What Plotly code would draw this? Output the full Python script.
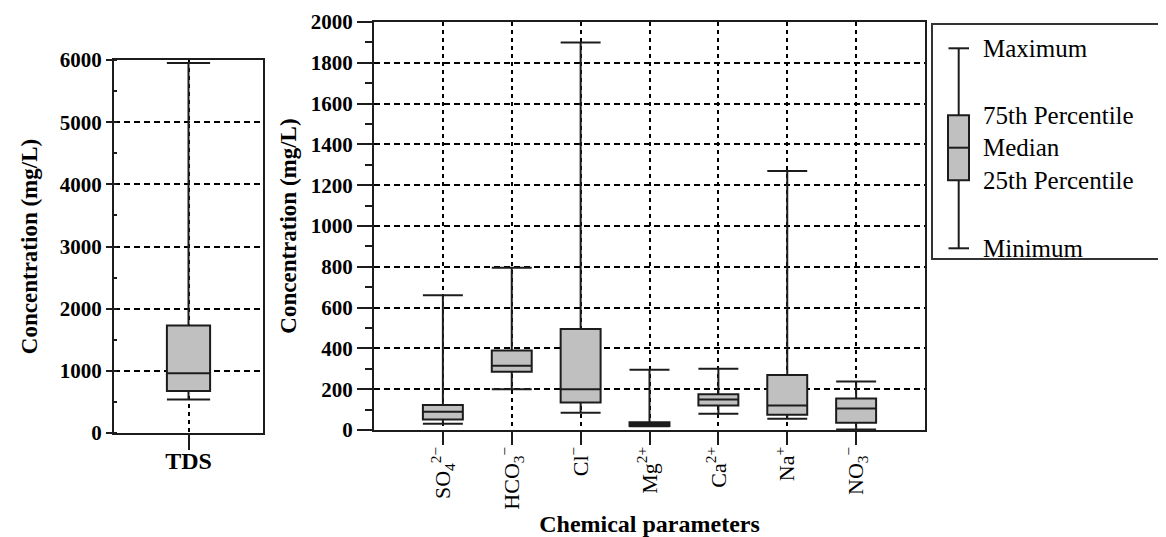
import plotly.graph_objects as go

# Reference canvas size; the page body has an 8px default margin,
# so the figure is made 8px smaller and positions are offset by 8px.
W, H = 1166, 537
OFF = 8
FW, FH = W - OFF, H - OFF

# ---------------- data ----------------
tds_cat = ["TDS"]
tds_min = [540]
tds_q1 = [675]
tds_med = [960]
tds_q3 = [1730]
tds_max = [5950]
tds_ticks = [0, 1000, 2000, 3000, 4000, 5000, 6000]

ion_cats = ["SO4", "HCO3", "Cl", "Mg", "Ca", "Na", "NO3"]
ion_labels = ["SO<sub>4</sub><sup>2−</sup>", "HCO<sub>3</sub><sup>−</sup>", "Cl<sup>−</sup>",
              "Mg<sup>2+</sup>", "Ca<sup>2+</sup>", "Na<sup>+</sup>", "NO<sub>3</sub><sup>−</sup>"]
ion_min = [31, 200, 85, 18, 80, 55, 2]
ion_q1 = [52, 285, 135, 20, 120, 75, 35]
ion_med = [90, 315, 200, 28, 150, 120, 105]
ion_q3 = [122, 390, 495, 38, 175, 270, 155]
ion_max = [660, 795, 1900, 295, 300, 1270, 238]
ion_ticks = list(range(0, 2001, 200))

legend_labels = ["Maximum", "75th Percentile", "Median", "25th Percentile", "Minimum"]

# ---------------- style ----------------
FONT = "Liberation Serif"
LINE = "#1c1c1c"
FILL = "#c0c0c0"

def px_x(x):
    return (x - OFF) / FW

def px_y(y):
    return 1 - (y - OFF) / FH

fig = go.Figure()

fig.add_trace(go.Box(
    x=tds_cat, q1=tds_q1, median=tds_med, q3=tds_q3,
    lowerfence=tds_min, upperfence=tds_max,
    width=0.58, whiskerwidth=1, boxpoints=False,
    fillcolor=FILL, line=dict(color=LINE, width=2),
    xaxis="x", yaxis="y", showlegend=False, hoverinfo="y"))

fig.add_trace(go.Box(
    x=ion_cats, q1=ion_q1, median=ion_med, q3=ion_q3,
    lowerfence=ion_min, upperfence=ion_max,
    width=0.58, whiskerwidth=1, boxpoints=False,
    fillcolor=FILL, line=dict(color=LINE, width=2),
    xaxis="x2", yaxis="y2", showlegend=False, hoverinfo="y"))

axis_common = dict(showline=True, linecolor=LINE, linewidth=2, mirror=True,
                   zeroline=False, gridcolor="black", gridwidth=1.6, automargin=False)

fig.update_layout(
    template="none",
    width=FW, height=FH,
    margin=dict(l=0, r=0, t=0, b=0, pad=0),
    paper_bgcolor="white", plot_bgcolor="white",
    font=dict(family=FONT, color="black"),
    xaxis=dict(domain=[px_x(114), px_x(263)], anchor="y", type="category",
               range=[-1, 1], tickmode="array", tickvals=tds_cat, ticktext=["<b>TDS</b>"],
               ticks="outside", ticklen=15, tickwidth=2, tickcolor=LINE,
               tickfont=dict(size=24, family=FONT), ticklabelstandoff=-10,
               showgrid=True, griddash="4px,4px", **axis_common),
    yaxis=dict(domain=[px_y(433), px_y(60)], anchor="x", range=[0, 6000],
               tickmode="array", tickvals=tds_ticks,
               ticktext=[f"<b>{v}</b>" for v in tds_ticks],
               ticks="outside", ticklen=6, tickwidth=2, tickcolor=LINE,
               tickfont=dict(size=21, family=FONT),
               minor=dict(dtick=500, ticks="inside", ticklen=3, tickwidth=2, tickcolor=LINE, showgrid=False),
               showgrid=True, griddash="6px,4px",
               title=dict(text="<b>Concentration (mg/L)</b>", font=dict(size=23, family=FONT), standoff=16),
               **axis_common),
    xaxis2=dict(domain=[px_x(374), px_x(925)], anchor="y2", type="category",
                range=[-1, 7], tickmode="array", tickvals=ion_cats, ticktext=ion_labels,
                tickangle=-90,
                ticks="outside", ticklen=13, tickwidth=2, tickcolor=LINE,
                tickfont=dict(size=22, family=FONT), ticklabelstandoff=-7,
                showgrid=True, griddash="4px,4px",
                title=dict(text="<b>Chemical parameters</b>", font=dict(size=24, family=FONT), standoff=14),
                **axis_common),
    yaxis2=dict(domain=[px_y(430), px_y(22)], anchor="x2", range=[0, 2000],
                tickmode="array", tickvals=ion_ticks,
                ticktext=[f"<b>{v}</b>" for v in ion_ticks],
                ticks="outside", ticklen=15, tickwidth=2, tickcolor=LINE,
                tickfont=dict(size=21, family=FONT),
                minor=dict(dtick=100, ticks="outside", ticklen=7, tickwidth=2, tickcolor=LINE, showgrid=False),
                showgrid=True, griddash="6px,4px",
                title=dict(text="<b>Concentration (mg/L)</b>", font=dict(size=23, family=FONT), standoff=8),
                **axis_common),
)

# ---------------- key (legend panel) ----------------
shapes = []
shapes.append(dict(type="rect", xref="paper", yref="paper",
                   x0=px_x(932), x1=px_x(1180), y0=px_y(259), y1=px_y(24),
                   line=dict(color="#333333", width=2), fillcolor="rgba(0,0,0,0)"))
gx = 958.7
key_y = [48.3, 115.3, 147.7, 180.3, 248.3]  # max, q3, median, q1, min (pixels)
lw = dict(color=LINE, width=2)
shapes.append(dict(type="line", xref="paper", yref="paper", x0=px_x(gx), x1=px_x(gx),
                   y0=px_y(key_y[0]), y1=px_y(key_y[1]), line=lw))
shapes.append(dict(type="line", xref="paper", yref="paper", x0=px_x(gx), x1=px_x(gx),
                   y0=px_y(key_y[3]), y1=px_y(key_y[4]), line=lw))
for yy in (key_y[0], key_y[4]):
    shapes.append(dict(type="line", xref="paper", yref="paper", x0=px_x(948.5), x1=px_x(969),
                       y0=px_y(yy), y1=px_y(yy), line=lw))
shapes.append(dict(type="rect", xref="paper", yref="paper", x0=px_x(948), x1=px_x(969),
                   y0=px_y(key_y[3]), y1=px_y(key_y[1]), line=lw, fillcolor=FILL))
shapes.append(dict(type="line", xref="paper", yref="paper", x0=px_x(948), x1=px_x(969),
                   y0=px_y(key_y[2]), y1=px_y(key_y[2]), line=lw))

annotations = []
for lab, yy in zip(legend_labels, key_y):
    annotations.append(dict(text=lab, xref="paper", yref="paper", x=px_x(981), y=px_y(yy),
                            xanchor="left", yanchor="middle", showarrow=False,
                            font=dict(size=25, family=FONT, color="black")))

fig.update_layout(shapes=shapes, annotations=annotations)

fig.write_html("out.html")
